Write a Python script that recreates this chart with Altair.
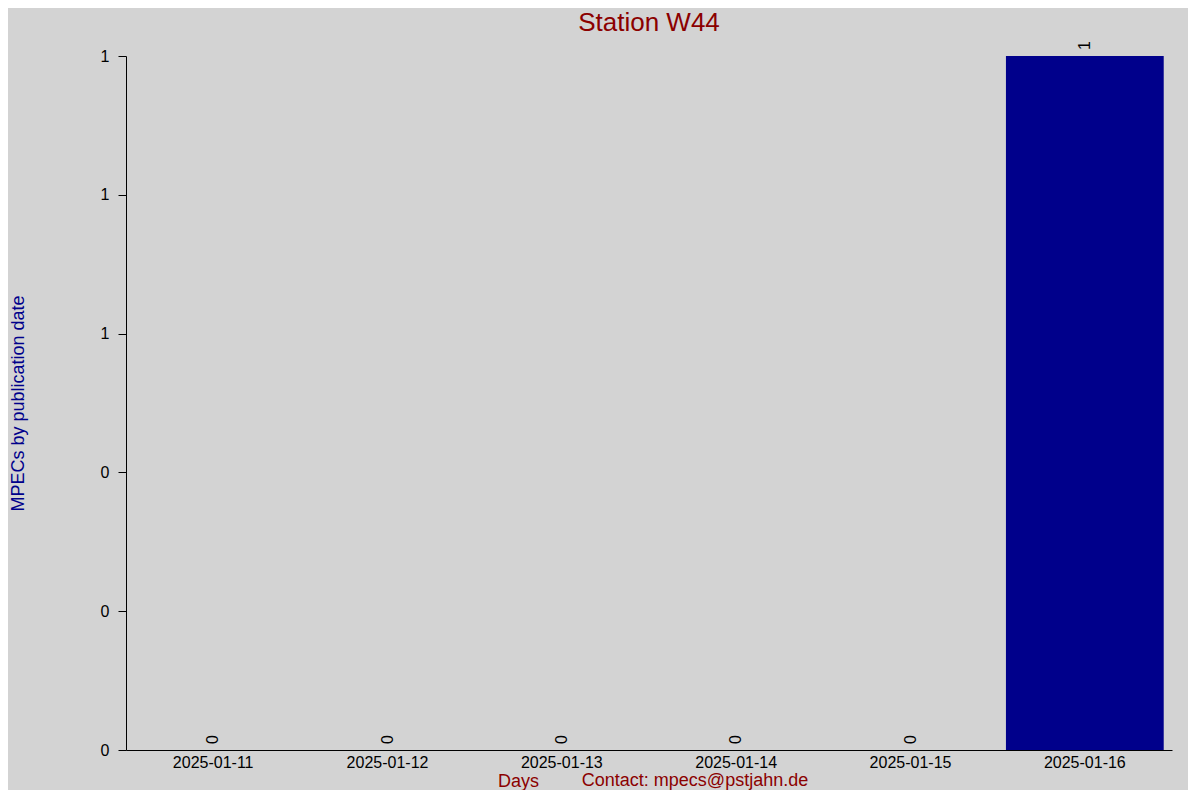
import altair as alt
import pandas as pd

dates = ["2025-01-11", "2025-01-12", "2025-01-13", "2025-01-14", "2025-01-15", "2025-01-16"]
counts = [0, 0, 0, 0, 0, 1]
y_ticks = [0, 0.2, 0.4, 0.6, 0.8, 1.0]
title_text = "Station W44"
y_title = "MPECs by publication date"
x_title = "Days"
contact = "Contact: mpecs@pstjahn.de"

df = pd.DataFrame({"date": dates, "count": counts})

FONT = "Liberation Sans"
DARKRED = "#8b0000"
DARKBLUE = "#00008b"

x_enc = alt.X(
    "date:N",
    sort=dates,
    scale=alt.Scale(paddingInner=0.095, paddingOuter=0.0475),
    axis=alt.Axis(
        title=x_title,
        labelAngle=0,
        ticks=False,
        labelFontSize=16,
        labelColor="black",
        labelPadding=4,
        domainColor="black",
        titleColor=DARKRED,
        titleFontSize=18,
        titleFontWeight="normal",
        titleX=392,
        titleY=31,
        titleAlign="center",
        titleBaseline="middle",
    ),
)

y_enc = alt.Y(
    "count:Q",
    scale=alt.Scale(domain=[0, 1], nice=False),
    axis=alt.Axis(
        title=y_title,
        values=y_ticks,
        format=".0f",
        grid=False,
        tickSize=8,
        tickColor="black",
        domainColor="black",
        labelFontSize=16,
        labelColor="black",
        labelPadding=9,
        titleColor=DARKBLUE,
        titleFontSize=18,
        titleFontWeight="normal",
        titleAngle=270,
        titleX=-108,
        titleY=347,
        titleAlign="center",
        titleBaseline="middle",
    ),
)

base = alt.Chart(df)

bars = base.mark_bar(color=DARKBLUE).encode(x=x_enc, y=y_enc)

labels = base.mark_text(
    angle=270, align="left", baseline="middle", dx=6, fontSize=16, color="black"
).encode(x=alt.X("date:N", sort=dates), y=alt.Y("count:Q"), text=alt.Text("count:Q", format="d"))

contact_df = pd.DataFrame({"t": [contact]})
contact_text = alt.Chart(contact_df).mark_text(
    fontSize=18, color=DARKRED, align="center", baseline="middle"
).encode(text="t:N", x=alt.value(569), y=alt.value(725))

chart = (
    alt.layer(bars, labels, contact_text)
    .properties(
        width=1046,
        height=694,
        title=alt.TitleParams(
            title_text,
            fontSize=26,
            color=DARKRED,
            fontWeight="normal",
            anchor="middle",
            frame="group",
            baseline="middle",
            offset=11,
            dy=19,
        ),
        autosize=alt.AutoSizeParams(type="none"),
        padding={"left": 118, "top": 48, "right": 16, "bottom": 40},
        background="#d3d3d3",
    )
    .configure(font=FONT)
    .configure_view(stroke=None)
)

chart.save("out.html", embed_options={"renderer": "svg", "actions": False})
